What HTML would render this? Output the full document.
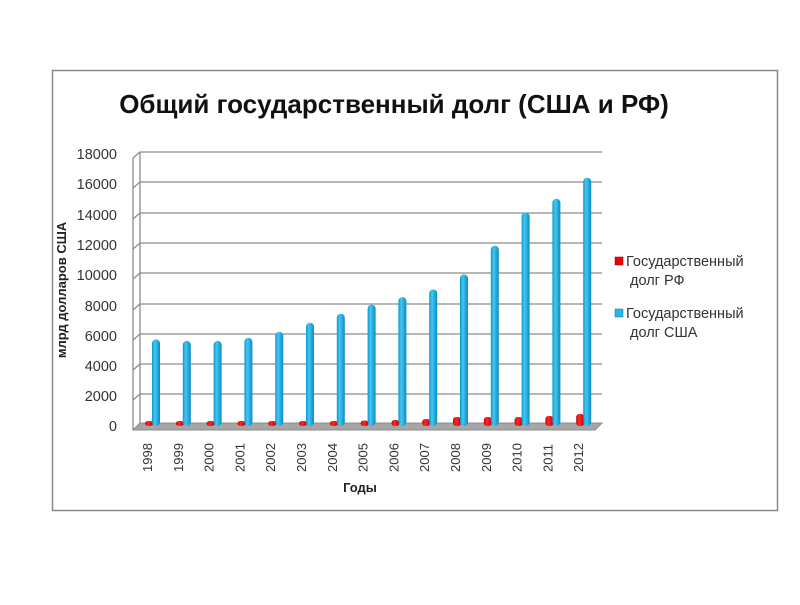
<!DOCTYPE html>
<html><head><meta charset="utf-8"><style>
body{margin:0;background:#fff;width:800px;height:600px;overflow:hidden}
svg{font-family:"Liberation Sans","DejaVu Sans",sans-serif}
</style></head><body>
<svg width="800" height="600" viewBox="0 0 800 600" xmlns="http://www.w3.org/2000/svg">
<defs>
<linearGradient id="b" x1="0" x2="1"><stop offset="0" stop-color="#0b95cc"/><stop offset="0.35" stop-color="#44c8f2"/><stop offset="1" stop-color="#0a8cc0"/></linearGradient>
<linearGradient id="r" x1="0" x2="1"><stop offset="0" stop-color="#c00"/><stop offset="0.4" stop-color="#ff2a2a"/><stop offset="1" stop-color="#b00"/></linearGradient>
</defs>
<rect x="52.5" y="70.5" width="725" height="440" fill="#fff" stroke="#8a8a8a" stroke-width="1.5"/>
<text x="394" y="113" text-anchor="middle" font-size="26" font-weight="bold" fill="#111">Общий государственный долг (США и РФ)</text>
<g stroke="#8c8c8c" stroke-width="1.3" fill="none">
<path d="M133 158 L140 152 H602"/><path d="M133 188 L140 182 H602"/><path d="M133 219 L140 213 H602"/><path d="M133 249 L140 243 H602"/><path d="M133 279 L140 273 H602"/><path d="M133 310 L140 304 H602"/><path d="M133 340 L140 334 H602"/><path d="M133 370 L140 364 H602"/><path d="M133 400 L140 394 H602"/>
<path d="M133 158 V430"/><path d="M140 152 V424"/>
</g>
<path d="M133 430 L140 423 H602 L595 430 Z" fill="#a6a6a6" stroke="#8c8c8c"/>
<g font-size="14.5" fill="#333" text-anchor="end">
<text x="117" y="159">18000</text><text x="117" y="189">16000</text><text x="117" y="220">14000</text><text x="117" y="250">12000</text><text x="117" y="280">10000</text><text x="117" y="311">8000</text><text x="117" y="341">6000</text><text x="117" y="371">4000</text><text x="117" y="401">2000</text><text x="117" y="431">0</text>
</g>
<text transform="translate(66 290) rotate(-90)" text-anchor="middle" font-size="13" font-weight="bold" fill="#222">млрд долларов США</text>
<g fill="url(#r)">
<rect x="145" y="421" width="8" height="5" rx="3"/>
<rect x="175.8" y="421" width="8" height="5" rx="3"/>
<rect x="206.6" y="421" width="8" height="5" rx="3"/>
<rect x="237.4" y="421" width="8" height="5" rx="3"/>
<rect x="268.2" y="421" width="8" height="5" rx="3"/>
<rect x="299" y="421" width="8" height="5" rx="3"/>
<rect x="329.8" y="421" width="8" height="5" rx="3"/>
<rect x="360.6" y="420.5" width="8" height="5.5" rx="3"/>
<rect x="391.4" y="420" width="8" height="6" rx="3"/>
<rect x="422.2" y="419" width="8" height="7" rx="3"/>
<rect x="453" y="417" width="8" height="9" rx="3"/>
<rect x="483.8" y="417" width="8" height="9" rx="3"/>
<rect x="514.6" y="417" width="8" height="9" rx="3"/>
<rect x="545.4" y="416" width="8" height="10" rx="3"/>
<rect x="576.2" y="414" width="8" height="12" rx="3"/>
</g>
<g fill="url(#b)">
<rect x="152" y="339.4" width="8" height="86.6" rx="4"/>
<rect x="182.8" y="340.9" width="8" height="85.1" rx="4"/>
<rect x="213.6" y="340.9" width="8" height="85.1" rx="4"/>
<rect x="244.4" y="337.9" width="8" height="88.1" rx="4"/>
<rect x="275.2" y="331.8" width="8" height="94.2" rx="4"/>
<rect x="306" y="322.8" width="8" height="103.2" rx="4"/>
<rect x="336.8" y="313.7" width="8" height="112.3" rx="4"/>
<rect x="367.6" y="304.6" width="8" height="121.4" rx="4"/>
<rect x="398.4" y="297.1" width="8" height="128.9" rx="4"/>
<rect x="429.2" y="289.5" width="8" height="136.5" rx="4"/>
<rect x="460" y="274.4" width="8" height="151.6" rx="4"/>
<rect x="490.8" y="245.7" width="8" height="180.3" rx="4"/>
<rect x="521.6" y="212.4" width="8" height="213.6" rx="4"/>
<rect x="552.4" y="198.8" width="8" height="227.2" rx="4"/>
<rect x="583.2" y="177.7" width="8" height="248.3" rx="4"/>
</g>
<g font-size="13" fill="#333">
<text transform="translate(152 472) rotate(-90)">1998</text>
<text transform="translate(182.8 472) rotate(-90)">1999</text>
<text transform="translate(213.6 472) rotate(-90)">2000</text>
<text transform="translate(244.4 472) rotate(-90)">2001</text>
<text transform="translate(275.2 472) rotate(-90)">2002</text>
<text transform="translate(306 472) rotate(-90)">2003</text>
<text transform="translate(336.8 472) rotate(-90)">2004</text>
<text transform="translate(367.6 472) rotate(-90)">2005</text>
<text transform="translate(398.4 472) rotate(-90)">2006</text>
<text transform="translate(429.2 472) rotate(-90)">2007</text>
<text transform="translate(460 472) rotate(-90)">2008</text>
<text transform="translate(490.8 472) rotate(-90)">2009</text>
<text transform="translate(521.6 472) rotate(-90)">2010</text>
<text transform="translate(552.4 472) rotate(-90)">2011</text>
<text transform="translate(583.2 472) rotate(-90)">2012</text>
</g>
<text x="360" y="492" text-anchor="middle" font-size="13" font-weight="bold" fill="#222">Годы</text>
<rect x="615" y="257" width="8" height="8" fill="#e00" stroke="#900" stroke-width="0.5"/>
<rect x="615" y="309" width="8" height="8" fill="#2bb4e6" stroke="#0a7fb0" stroke-width="0.5"/>
<g font-size="14.5" fill="#333">
<text x="626" y="266">Государственный</text><text x="630" y="285">долг РФ</text>
<text x="626" y="318">Государственный</text><text x="630" y="337">долг США</text>
</g>
</svg>
</body></html>
